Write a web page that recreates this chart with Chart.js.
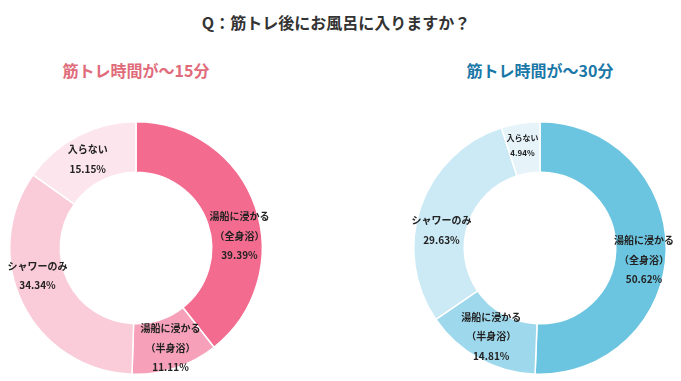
<!DOCTYPE html>
<html><head><meta charset="utf-8">
<script src="https://cdn.jsdelivr.net/npm/chart.js@4.4.1/dist/chart.umd.min.js"></script>
<style>
html,body{margin:0;padding:0;background:#fff;width:681px;height:381px;overflow:hidden;font-family:"Noto Sans CJK JP","Noto Sans",sans-serif;}
.t{position:absolute;font-weight:bold;white-space:nowrap;transform:translate(-50%,-50%);}
canvas{position:absolute;left:0;top:0;}
</style></head><body>
<div class="t" style="left:336px;top:22px;font-size:16px;color:#333;">Q：筋トレ後にお風呂に入りますか？</div>
<div class="t" style="left:136px;top:70px;font-size:16px;color:#E06B7A;">筋トレ時間が～15分</div>
<div class="t" style="left:540px;top:70px;font-size:16px;color:#1A78A8;">筋トレ時間が～30分</div>
<canvas id="c1" width="681" height="381"></canvas>
<canvas id="c2" width="681" height="381"></canvas>
<script>
const categories = [["湯船に浸かる","（全身浴）"],["湯船に浸かる","（半身浴）"],["シャワーのみ"],["入らない"]];
const values15 = [39.39, 11.11, 34.34, 15.15];
const values30 = [50.62, 14.81, 29.63, 4.94];
const colors15 = ["#F36B8F","#F6A1B9","#FACBD8","#FDE5EE"];
const colors30 = ["#6CC5E0","#9ED8EC","#CBEAF5","#E6F4FA"];
// label placement nudges (style only), per slice [dx, dy]
const nudge15 = [[8,21],[3,4],[-8,-17],[-2,1]];
const nudge30 = [[3,10],[0,0],[-3,15],[-2,-3]];

const labelPlugin = {
  id:'sliceLabels',
  afterDatasetsDraw(chart, args, opts){
    const ctx = chart.ctx;
    const meta = chart.getDatasetMeta(0);
    const vals = chart.data.datasets[0].data;
    meta.data.forEach((arc,i)=>{
      const small = vals[i] < 8;
      const fs = small ? 8 : 10;
      const lh = small ? 15 : 19.5;
      const p = arc.tooltipPosition();
      const nd = opts.nudge[i];
      const lines = categories[i].concat([vals[i].toFixed(2)+'%']);
      ctx.save();
      ctx.font = 'bold '+fs+'px "Noto Sans CJK JP", sans-serif';
      ctx.fillStyle = '#222';
      ctx.textAlign = 'center';
      ctx.textBaseline = 'middle';
      const cx = p.x + nd[0], cy = p.y + nd[1];
      const start = cy - (lines.length-1)*lh/2;
      lines.forEach((l,k)=>ctx.fillText(l, cx, start + k*lh));
      ctx.restore();
    });
  }
};

function make(id, data, colors, padding, nudge){
  new Chart(document.getElementById(id), {
    type:'doughnut',
    data:{labels:categories.map(c=>c.join('')), datasets:[{data:data, backgroundColor:colors, borderColor:'#fff', borderWidth:1.5}]},
    options:{
      responsive:false, animation:false, cutout:'60%',
      layout:{padding:padding},
      plugins:{legend:{display:false}, tooltip:{enabled:false}, title:{display:false}, sliceLabels:{nudge:nudge}}
    },
    plugins:[labelPlugin]
  });
}
make('c1', values15, colors15, {left:9, right:681-263, top:121, bottom:381-375}, nudge15);
make('c2', values30, colors30, {left:413, right:681-667, top:121, bottom:381-375}, nudge30);
</script>
</body></html>
